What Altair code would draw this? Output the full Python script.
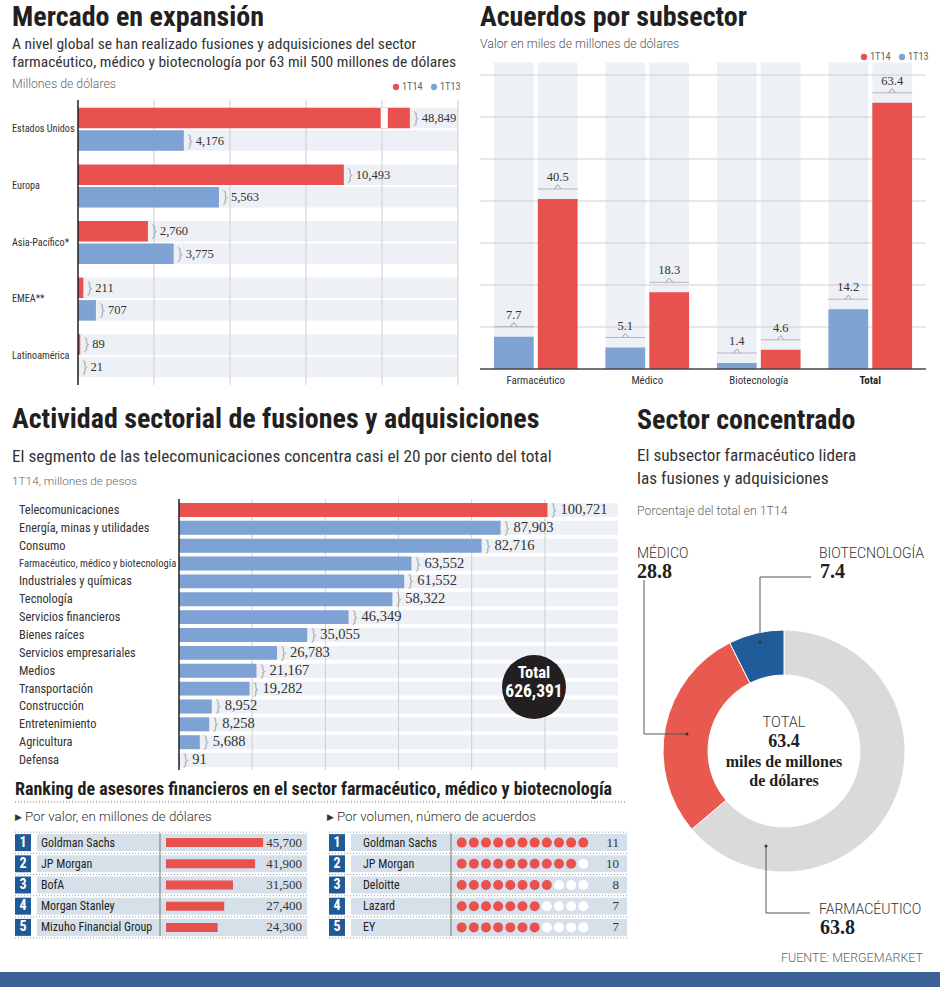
import altair as alt
import pandas as pd

# ---------------- DATA ----------------
# Mercado en expansión (millones de dólares)
regiones = ["Estados Unidos", "Europa", "Asia-Pacífico*", "EMEA**", "Latinoamérica"]
t14_region = [48849, 10493, 2760, 211, 89]
t13_region = [4176, 5563, 3775, 707, 21]
ticks_region = [3000, 6000, 9000, 12000, 15000]

# Acuerdos por subsector (miles de millones de dólares)
subsectores = ["Farmacéutico", "Médico", "Biotecnología", "Total"]
t13_sub = [7.7, 5.1, 1.4, 14.2]
t14_sub = [40.5, 18.3, 4.6, 63.4]
ticks_sub = [10, 20, 30, 40, 50, 60, 70]

# Actividad sectorial (1T14, millones de pesos)
sectores = ["Telecomunicaciones", "Energía, minas y utilidades", "Consumo",
            "Farmacéutico, médico y biotecnología", "Industriales y químicas", "Tecnología",
            "Servicios financieros", "Bienes raíces", "Servicios empresariales", "Medios",
            "Transportación", "Construcción", "Entretenimiento", "Agricultura", "Defensa"]
valores_sector = [100721, 87903, 82716, 63552, 61552, 58322, 46349, 35055, 26783,
                  21167, 19282, 8952, 8258, 5688, 91]
ticks_sector = [20000, 40000, 60000, 80000, 100000]
total_sector = "626,391"

# Ranking de asesores
asesores_valor = ["Goldman Sachs", "JP Morgan", "BofA", "Morgan Stanley", "Mizuho Financial Group"]
montos_valor = [45700, 41900, 31500, 27400, 24300]
asesores_volumen = ["Goldman Sachs", "JP Morgan", "Deloitte", "Lazard", "EY"]
acuerdos_volumen = [11, 10, 8, 7, 7]

# Sector concentrado (% del total en 1T14)
donut_cats = ["Farmacéutico", "Médico", "Biotecnología"]
donut_pct = [63.8, 28.8, 7.4]
donut_total = "63.4"

# ---------------- STYLE ----------------
RED = "#e8514e"
BLUE = "#7ea2d4"
STRIPE = "#edf0f5"
GRID = "#cfcfcf"
INK = "#231f20"
TXT = "#333333"
GRAY = "#666666"
NAVY = "#1f5a96"
CELL = "#d5e0eb"
DONUT_GRAY = "#dadada"
DONUT_RED = "#e85a50"
DONUT_BLUE = "#1f5c99"
COND = "Roboto Condensed, DejaVu Sans Condensed, sans-serif"
HEAD = "Roboto Condensed, Roboto, sans-serif"
SANS = "Roboto, Lato, sans-serif"
SERIF = "Liberation Serif, DejaVu Serif, serif"


def txt(s, x, y, size, font=COND, weight="normal", color=TXT, align="left",
        baseline="alphabetic"):
    return alt.Chart(pd.DataFrame({"t": [s]})).mark_text(
        align=align, baseline=baseline, font=font, fontSize=size,
        fontWeight=weight, color=color
    ).encode(x=alt.value(x), y=alt.value(y), text="t:N")


layers = []

# ================= 1. Mercado en expansión =================
rows = []
for r, a, b in zip(regiones, t14_region, t13_region):
    rows.append({"region": r, "serie": "1T14", "valor": a})
    rows.append({"region": r, "serie": "1T13", "valor": b})
df_reg = pd.DataFrame(rows)
df_reg["label"] = df_reg["valor"].map(lambda v: f"{v:,}")

ry = alt.Y("region:N", scale=alt.Scale(domain=regiones, range=[101, 384],
                                        paddingInner=0.24, paddingOuter=0.12), axis=None)
ryo = alt.YOffset("serie:N", scale=alt.Scale(domain=["1T14", "1T13"], paddingInner=0.09,
                                              paddingOuter=0))
rxs = alt.Scale(domain=[0, 15000], range=[78, 458], nice=False, zero=True)
rcol = alt.Color("serie:N", scale=alt.Scale(domain=["1T14", "1T13"], range=[RED, BLUE]),
                 legend=None)

base_reg = alt.Chart(df_reg).transform_calculate(mostrado="min(datum.valor, 13100)")
reg_stripe = base_reg.mark_bar(color=STRIPE).encode(
    y=ry, yOffset=ryo, x=alt.XDatum(0, type="quantitative", scale=rxs, axis=None),
    x2=alt.X2Datum(15000))
reg_grid = alt.Chart(pd.DataFrame({"t": ticks_region})).mark_rule(
    color=GRID, strokeWidth=1).encode(
    x=alt.X("t:Q", scale=rxs, axis=None), y=alt.value(100), y2=alt.value(385))
reg_bars = base_reg.mark_bar().encode(
    y=ry, yOffset=ryo, x=alt.X("mostrado:Q", scale=rxs, axis=None), color=rcol)
reg_break = base_reg.transform_filter("datum.valor > 15000").mark_bar(color="white").encode(
    y=ry, yOffset=ryo, x=alt.XDatum(11950, type="quantitative", scale=rxs, axis=None),
    x2=alt.X2Datum(12230))
reg_axis = alt.Chart(pd.DataFrame({"z": [0]})).mark_rule(color=INK, strokeWidth=1.5).encode(
    x=alt.X("z:Q", scale=rxs, axis=None), y=alt.value(100), y2=alt.value(385))
reg_brace = base_reg.mark_text(text="}", align="left", baseline="middle", dx=4,
                               font=SANS, fontWeight=300, fontSize=15, color="#9a9a9a").encode(
    y=ry, yOffset=ryo, x=alt.X("mostrado:Q", scale=rxs, axis=None))
reg_vals = base_reg.mark_text(align="left", baseline="middle", dx=12, font=SERIF,
                              fontSize=12.5, color=TXT).encode(
    y=ry, yOffset=ryo, x=alt.X("mostrado:Q", scale=rxs, axis=None), text="label:N")
reg_names = alt.Chart(pd.DataFrame({"region": regiones})).mark_text(
    align="left", baseline="middle", font=COND, fontSize=10.2, color=TXT).encode(
    y=ry, x=alt.value(12), text="region:N")

layers.append(alt.layer(reg_stripe, reg_grid, reg_bars, reg_break, reg_axis,
                        reg_brace, reg_vals, reg_names))

layers += [
    txt("Mercado en expansión", 12, 26, 28, font=HEAD, weight="bold", color=INK),
    txt("A nivel global se han realizado fusiones y adquisiciones del sector", 12, 49, 15.5),
    txt("farmacéutico, médico y biotecnología por 63 mil 500 millones de dólares", 12, 67, 15.5),
    txt("Millones de dólares", 12, 88, 12.3, font=SANS, weight=300, color=GRAY),
]

PX = alt.Scale(domain=[0, 940], range=[0, 940], nice=False, zero=False)

# legend helper (dot + text)
def legend(x0, y0):
    dots = alt.Chart(pd.DataFrame({"s": ["1T14", "1T13"], "px": [x0, x0 + 38]})).mark_point(
        filled=True, size=40, opacity=1).encode(
        x=alt.X("px:Q", scale=PX, axis=None),
        y=alt.value(y0),
        color=alt.Color("s:N", scale=alt.Scale(domain=["1T14", "1T13"], range=[RED, BLUE]),
                        legend=None))
    labs = alt.Chart(pd.DataFrame({"s": ["1T14", "1T13"], "px": [x0 + 6, x0 + 44]})).mark_text(
        align="left", baseline="middle", font=COND, fontSize=10.3, color=GRAY).encode(
        x=alt.X("px:Q", scale=PX, axis=None),
        y=alt.value(y0), text="s:N")
    return alt.layer(dots, labs)

layers.append(legend(396, 87))

# ================= 2. Acuerdos por subsector =================
rows = []
for s, a, b in zip(subsectores, t13_sub, t14_sub):
    rows.append({"sub": s, "serie": "1T13", "valor": a})
    rows.append({"sub": s, "serie": "1T14", "valor": b})
df_sub = pd.DataFrame(rows)
df_sub["label"] = df_sub["valor"].map(lambda v: f"{v:.1f}")

sx = alt.X("sub:N", scale=alt.Scale(domain=subsectores, range=[480, 926],
                                     paddingInner=0.25, paddingOuter=0.125), axis=None)
sxo = alt.XOffset("serie:N", scale=alt.Scale(domain=["1T13", "1T14"], paddingInner=0.095,
                                              paddingOuter=0))
sys_ = alt.Scale(domain=[0, 70], range=[369, 75], nice=False, zero=True)
scol = alt.Color("serie:N", scale=alt.Scale(domain=["1T14", "1T13"], range=[RED, BLUE]),
                 legend=None)

sub_stripe = alt.Chart(df_sub).mark_bar(color=STRIPE).encode(
    x=sx, xOffset=sxo, y=alt.YDatum(73, type="quantitative", scale=sys_, axis=None),
    y2=alt.Y2Datum(0))
sub_grid = alt.Chart(pd.DataFrame({"t": ticks_sub})).mark_rule(color=GRID).encode(
    y=alt.Y("t:Q", scale=sys_, axis=None), x=alt.value(480), x2=alt.value(926))
sub_bars = alt.Chart(df_sub).mark_bar().encode(
    x=sx, xOffset=sxo, y=alt.Y("valor:Q", scale=sys_, axis=None), color=scol)
sub_base = alt.Chart(pd.DataFrame({"z": [0]})).mark_rule(color="#444", strokeWidth=1.5).encode(
    y=alt.Y("z:Q", scale=sys_, axis=None), x=alt.value(480), x2=alt.value(926))
sub_brace = alt.Chart(df_sub).mark_tick(orient="horizontal", size=40, thickness=1,
                                        color="#a0a0a0", yOffset=-10).encode(
    x=sx, xOffset=sxo, y=alt.Y("valor:Q", scale=sys_, axis=None))
sub_caret = alt.Chart(df_sub).mark_point(shape="M-1,0.6L0,-0.6L1,0.6", filled=False,
                                         size=49, strokeWidth=1, color="#a0a0a0",
                                         opacity=1, yOffset=-12).encode(
    x=sx, xOffset=sxo, y=alt.Y("valor:Q", scale=sys_, axis=None))
sub_vals = alt.Chart(df_sub).mark_text(baseline="middle", dy=-22, font=SERIF, fontSize=12.5,
                                       color=TXT).encode(
    x=sx, xOffset=sxo, y=alt.Y("valor:Q", scale=sys_, axis=None), text="label:N")
df_subn = pd.DataFrame({"sub": subsectores})
sub_names = alt.Chart(df_subn).transform_filter("datum.sub != 'Total'").mark_text(
    baseline="middle", font=COND, fontSize=10.9, color=TXT).encode(
    x=sx, y=alt.value(381), text="sub:N")
sub_total = alt.Chart(df_subn).transform_filter("datum.sub == 'Total'").mark_text(
    baseline="middle", font=COND, fontSize=10.9, fontWeight="bold", color=INK).encode(
    x=sx, y=alt.value(381), text="sub:N")

layers.append(alt.layer(sub_stripe, sub_grid, sub_bars, sub_base, sub_brace, sub_caret,
                        sub_vals, sub_names, sub_total))
layers += [
    txt("Acuerdos por subsector", 480, 26, 28, font=HEAD, weight="bold", color=INK),
    txt("Valor en miles de millones de dólares", 480, 48, 12.3, font=SANS, weight=300,
        color="#555"),
]
layers.append(legend(864, 57))

# ================= 3. Actividad sectorial =================
df_sec = pd.DataFrame({"sector": sectores, "valor": valores_sector})
df_sec["label"] = df_sec["valor"].map(lambda v: f"{v:,}")
ey = alt.Y("sector:N", scale=alt.Scale(domain=sectores, range=[501, 769],
                                        paddingInner=0.22, paddingOuter=0.11), axis=None)
exs = alt.Scale(domain=[0, 120000], range=[179, 618], nice=False, zero=True)

sec_stripe = alt.Chart(df_sec).mark_bar(color=STRIPE).encode(
    y=ey, x=alt.XDatum(0, type="quantitative", scale=exs, axis=None), x2=alt.X2Datum(120000))
sec_grid = alt.Chart(pd.DataFrame({"t": ticks_sector})).mark_rule(color=GRID).encode(
    x=alt.X("t:Q", scale=exs, axis=None), y=alt.value(499), y2=alt.value(770))
sec_bars = alt.Chart(df_sec).mark_bar().encode(
    y=ey, x=alt.X("valor:Q", scale=exs, axis=None),
    color=alt.condition(f"datum.sector == '{sectores[0]}'", alt.value(RED), alt.value(BLUE)))
sec_axis = alt.Chart(pd.DataFrame({"z": [0]})).mark_rule(color=INK, strokeWidth=1.5).encode(
    x=alt.X("z:Q", scale=exs, axis=None), y=alt.value(499), y2=alt.value(770))
sec_brace = alt.Chart(df_sec).mark_text(text="}", align="left", baseline="middle", dx=4,
                                        font=SANS, fontWeight=300, fontSize=15,
                                        color="#9a9a9a").encode(
    y=ey, x=alt.X("valor:Q", scale=exs, axis=None))
sec_vals = alt.Chart(df_sec).mark_text(align="left", baseline="middle", dx=13, font=SERIF,
                                       fontSize=14.5, color=TXT).encode(
    y=ey, x=alt.X("valor:Q", scale=exs, axis=None), text="label:N")
sec_names = alt.Chart(df_sec).transform_filter("length(datum.sector) <= 30").mark_text(
    align="left", baseline="middle", font=COND, fontSize=12.4, color=TXT).encode(
    y=ey, x=alt.value(19), text="sector:N")
sec_names_long = alt.Chart(df_sec).transform_filter("length(datum.sector) > 30").mark_text(
    align="left", baseline="middle", font=COND, fontSize=10.5, color=TXT).encode(
    y=ey, x=alt.value(19), text="sector:N")

layers.append(alt.layer(sec_stripe, sec_grid, sec_bars, sec_axis, sec_brace, sec_vals,
                        sec_names, sec_names_long))

total_circle = alt.Chart(pd.DataFrame({"t": [total_sector]})).mark_point(
    filled=True, size=4096, color=INK, opacity=1).encode(x=alt.value(534), y=alt.value(687))
layers += [
    total_circle,
    txt("Total", 534, 678, 16.5, weight="bold", color="white", align="center"),
    txt(total_sector, 534, 697, 17.5, weight="bold", color="white", align="center"),
    txt("Actividad sectorial de fusiones y adquisiciones", 12, 428, 28, font=HEAD,
        weight="bold", color=INK),
    txt("El segmento de las telecomunicaciones concentra casi el 20 por ciento del total",
        12, 462, 17.2),
    txt("1T14, millones de pesos", 12, 485, 11.8, font=SANS, weight=300, color=GRAY),
]

# ================= 4. Ranking =================
layers += [
    txt("Ranking de asesores financieros en el sector farmacéutico, médico y biotecnología",
        15, 795, 18, font=HEAD, weight="bold", color=INK),
    alt.Chart(pd.DataFrame({"a": [0]})).mark_rule(color="#777", strokeDash=[1, 2]).encode(
        x=alt.value(15), x2=alt.value(627), y=alt.value(802)),
    txt("▶", 15, 817, 9, font="DejaVu Sans", color=TXT, baseline="middle"),
    txt("Por valor, en millones de dólares", 25, 817, 13.3, font=SANS, weight=300,
        color=TXT, baseline="middle"),
    txt("▶", 327, 817, 9, font="DejaVu Sans", color=TXT, baseline="middle"),
    txt("Por volumen, número de acuerdos", 337, 817, 13.3, font=SANS, weight=300,
        color=TXT, baseline="middle"),
]

def table(names, values, x_box, x_cell0, x_cell1, x_name, x_div, x_val):
    df = pd.DataFrame({"rank": [str(i + 1) for i in range(len(names))],
                       "name": names, "val": values})
    tsc = alt.Scale(domain=list(df["rank"]), range=[832, 938],
                    paddingInner=0.2, paddingOuter=0.1)
    ty = alt.Y("rank:N", scale=tsc, axis=None)
    box = alt.Chart(df).mark_rect(color=NAVY).encode(
        y=ty, x=alt.value(x_box), x2=alt.value(x_box + 16))
    cell = alt.Chart(df).mark_rect(color=CELL).encode(
        y=ty, x=alt.value(x_cell0), x2=alt.value(x_cell1))
    sep0 = alt.Chart(df).mark_rule(color="#999", strokeDash=[1, 2], yOffset=-2).encode(
        y=alt.Y("rank:N", scale=tsc, axis=None, bandPosition=0),
        x=alt.value(x_box), x2=alt.value(x_cell1))
    sep1 = alt.Chart(df).transform_filter(f"datum.rank == '{len(names)}'").mark_rule(
        color="#999", strokeDash=[1, 2], yOffset=2).encode(
        y=alt.Y("rank:N", scale=tsc, axis=None, bandPosition=1),
        x=alt.value(x_box), x2=alt.value(x_cell1))
    num = alt.Chart(df).mark_text(font=COND, fontWeight="bold", fontSize=14, color="white",
                                  baseline="middle").encode(
        y=ty, x=alt.value(x_box + 8), text="rank:N")
    nm = alt.Chart(df).mark_text(font=COND, fontSize=12, color=INK, align="left",
                                 baseline="middle").encode(
        y=ty, x=alt.value(x_name), text="name:N")
    div = alt.Chart(pd.DataFrame({"a": [0]})).mark_rule(color="#777").encode(
        x=alt.value(x_div), y=alt.value(833), y2=alt.value(936))
    vals = alt.Chart(df).transform_calculate(
        lab="format(datum.val, ',')").mark_text(
        font=SERIF, fontSize=13, color=TXT, align="right", baseline="middle").encode(
        y=ty, x=alt.value(x_val), text="lab:N")
    return df, ty, [cell, box, sep0, sep1, num, nm, div, vals]

df_v, ty_v, parts_v = table(asesores_valor, montos_valor, 15, 37, 307, 41, 160, 302)
bar_v = alt.Chart(df_v).mark_bar(color=RED, size=9).encode(
    y=ty_v, x=alt.X("val:Q", scale=alt.Scale(domain=[0, 50000], range=[166, 272.3],
                                              nice=False), axis=None))
layers.append(alt.layer(*parts_v, bar_v))

df_n, ty_n, parts_n = table(asesores_volumen, acuerdos_volumen, 329, 351, 627, 363, 451, 619)
dot_rows = []
for i, (n, c) in enumerate(zip(asesores_volumen, acuerdos_volumen)):
    for k in range(1, max(acuerdos_volumen) + 1):
        dot_rows.append({"rank": str(i + 1), "k": k, "lleno": "si" if k <= c else "no"})
dots = alt.Chart(pd.DataFrame(dot_rows)).mark_point(filled=True, size=100, opacity=1).encode(
    y=ty_n, x=alt.X("k:Q", scale=alt.Scale(domain=[1, 11], range=[461.7, 583.3], nice=False,
                                            zero=False), axis=None),
    color=alt.Color("lleno:N", scale=alt.Scale(domain=["si", "no"], range=[RED, "white"]),
                    legend=None))
layers.append(alt.layer(*parts_n, dots))

# ================= 5. Sector concentrado =================
df_d = pd.DataFrame({"cat": donut_cats, "pct": donut_pct, "orden": [0, 1, 2]})
donut = alt.Chart(df_d).mark_arc(outerRadius=121, innerRadius=76, stroke="white",
                                 strokeWidth=1).encode(
    theta=alt.Theta("pct:Q", stack=True),
    order=alt.Order("orden:Q"),
    color=alt.Color("cat:N", scale=alt.Scale(domain=donut_cats,
                                             range=[DONUT_GRAY, DONUT_RED, DONUT_BLUE]),
                    legend=None),
    x=alt.value(784), y=alt.value(751))
layers.append(donut)

def leader(points):
    segs = []
    for (x1, y1), (x2, y2) in zip(points[:-1], points[1:]):
        segs.append(alt.Chart(pd.DataFrame({"a": [0]})).mark_rule(color="#555", strokeWidth=1)
                    .encode(x=alt.value(x1), y=alt.value(y1), x2=alt.value(x2), y2=alt.value(y2)))
    ex, ey_ = points[-1]
    segs.append(alt.Chart(pd.DataFrame({"a": [0]})).mark_point(
        filled=True, size=9, color="#333", opacity=1).encode(x=alt.value(ex), y=alt.value(ey_)))
    return segs

layers += leader([(644, 580), (644, 734), (687, 734)])
layers += leader([(811, 577), (760, 577), (760, 642)])
layers += leader([(810, 913), (766, 913), (766, 846)])

pct_lab = {c: f"{p:.1f}" for c, p in zip(donut_cats, donut_pct)}
layers += [
    txt("Sector concentrado", 637, 429, 28, font=HEAD, weight="bold", color=INK),
    txt("El subsector farmacéutico lidera", 637, 461, 17.2),
    txt("las fusiones y adquisiciones", 637, 484, 17.2),
    txt("Porcentaje del total en 1T14", 637, 515, 12.3, font=SANS, weight=300, color=GRAY),
    txt("MÉDICO", 637, 558, 14, font=SANS, weight=300, color=TXT),
    txt(pct_lab["Médico"], 637, 578, 20, font=SERIF, weight="bold", color=INK),
    txt("BIOTECNOLOGÍA", 819, 558, 14, font=SANS, weight=300, color=TXT),
    txt(pct_lab["Biotecnología"], 820, 578, 20, font=SERIF, weight="bold", color=INK),
    txt("FARMACÉUTICO", 819, 914, 14, font=SANS, weight=300, color=TXT),
    txt(pct_lab["Farmacéutico"], 820, 934, 20, font=SERIF, weight="bold", color=INK),
    txt("TOTAL", 784, 727, 14.5, font=SANS, weight=300, color=TXT, align="center"),
    txt(donut_total, 784, 747, 18, font=SERIF, weight="bold", color=INK, align="center"),
    txt("miles de millones", 784, 767, 16, font=SERIF, weight="bold", color=INK, align="center"),
    txt("de dólares", 784, 786, 16, font=SERIF, weight="bold", color=INK, align="center"),
    txt("FUENTE: MERGEMARKET", 923, 962, 12.5, font=SANS, weight=300, color=GRAY, align="right"),
    alt.Chart(pd.DataFrame({"a": [0]})).mark_rect(color="#3b6396").encode(
        x=alt.value(0), x2=alt.value(940), y=alt.value(972), y2=alt.value(987)),
]

chart = alt.layer(*layers).resolve_scale(
    x="independent", y="independent", color="independent", theta="independent"
).properties(
    width=940, height=987, padding=0, autosize=alt.AutoSizeParams(type="none"),
    background="white"
).configure_view(stroke=None)

chart.save("out.html", embed_options={"renderer": "svg", "actions": False})
